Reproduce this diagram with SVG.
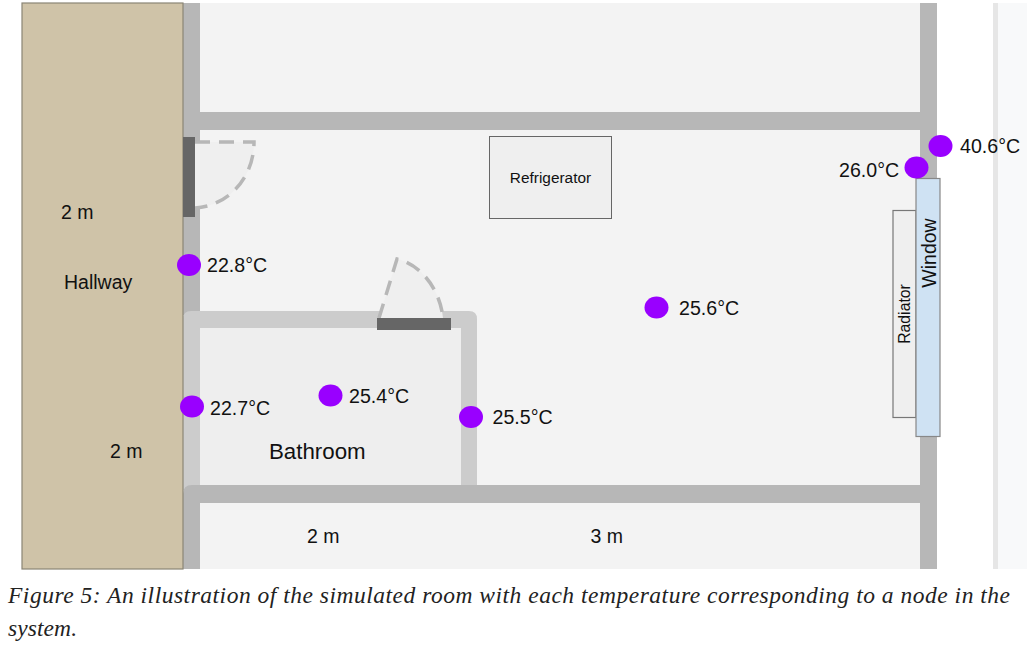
<svg xmlns="http://www.w3.org/2000/svg" width="1034" height="650" viewBox="0 0 1034 650">
<style>
text{font-family:"Liberation Sans",Arial,sans-serif;fill:#111}
.t{font-size:19.500px}
.lbl{font-size:19.600px}
.node{fill:#9900ff}
.wall{fill:#b7b7b7}
.iw{fill:#cccccc}
.door{fill:#666666}
.swing{fill:#efefef;stroke:none}
.dash{fill:none;stroke:#b7b7b7;stroke-width:3.500;stroke-dasharray:15 9}
.cap{font-family:"Liberation Serif","Times New Roman",serif;font-style:italic;font-size:23.500px;fill:#222}
</style>
<rect width="1034" height="650" fill="#fff"/>
<g id="background">
<rect x="993" y="3" width="5" height="566" fill="#e6e6e6"/>
<rect x="998" y="3" width="29" height="566" fill="#f8f9fa"/>
</g>
<g id="floor"><rect x="183" y="3" width="737" height="566" fill="#f3f3f3"/></g>
<g id="bathroom"><rect x="200" y="328" width="261" height="158" fill="#eeeeee"/></g>
<g id="walls">
<rect class="wall" x="183" y="3" width="17" height="312"/>
<rect class="wall" x="183" y="112" width="754" height="18"/>
<rect class="wall" x="920" y="3" width="17" height="566"/>
<path class="iw" d="M191 311H469Q477 311 477 319V490H461V328H200V490H183V319Q183 311 191 311Z"/>
<path class="wall" d="M192 485H937V503H200V569H183V494Q183 485 192 485Z"/>
</g>
<g id="hallway">
<rect x="22" y="3" width="161" height="566" fill="#cfc3a8" stroke="#8a8575" stroke-width="1.200"/>
<text class="t" x="64" y="288.500">Hallway</text>
<text class="t" x="61" y="219">2 m</text>
<text class="t" x="110" y="458">2 m</text>
</g>
<g id="door-hallway">
<path class="swing" d="M195 142H254C254 178 228 206 195 208Z"/>
<path class="dash" d="M195 142H254C254 178 228 206 195 208"/>
<rect class="door" x="183" y="137" width="12" height="80"/>
</g>
<g id="door-bathroom">
<path class="swing" d="M379 318L397 259C422 265 440 290 443 318Z"/>
<path class="dash" d="M379 318L397 259C422 265 440 290 443 318"/>
<rect class="door" x="377" y="318" width="74" height="12"/>
</g>
<g id="refrigerator">
<rect x="489.500" y="136.500" width="122" height="82" fill="#efefef" stroke="#666" stroke-width="1"/>
<text x="550.500" y="183" font-size="15.400" text-anchor="middle">Refrigerator</text>
</g>
<g id="radiator">
<rect x="893" y="210.500" width="23" height="207" fill="#efefef" stroke="#777" stroke-width="1.200"/>
<text transform="translate(910 314) rotate(-90)" font-size="15.800" text-anchor="middle">Radiator</text>
</g>
<g id="window">
<rect x="916" y="178.500" width="24" height="258" fill="#cfe2f3" stroke="#888" stroke-width="1.200"/>
<text transform="translate(936 253) rotate(-90)" font-size="19.500" text-anchor="middle">Window</text>
</g>
<g id="n-40-6"><ellipse class="node" cx="940.500" cy="146" rx="12" ry="11"/><text class="lbl" x="960" y="152.500">40.6°C</text></g>
<g id="n-26-0"><ellipse class="node" cx="916.500" cy="167.500" rx="12" ry="11"/><text class="lbl" x="839" y="176.500">26.0°C</text></g>
<g id="n-22-8"><ellipse class="node" cx="189" cy="265" rx="12" ry="11"/><text class="lbl" x="207" y="271.500">22.8°C</text></g>
<g id="n-25-6"><ellipse class="node" cx="656.500" cy="307.500" rx="12" ry="11"/><text class="lbl" x="679" y="314.500">25.6°C</text></g>
<g id="n-22-7"><ellipse class="node" cx="192" cy="406.500" rx="12" ry="11"/><text class="lbl" x="210" y="415">22.7°C</text></g>
<g id="n-25-4"><ellipse class="node" cx="330.500" cy="395.500" rx="12" ry="11"/><text class="lbl" x="349" y="402.500">25.4°C</text></g>
<g id="n-25-5"><ellipse class="node" cx="471" cy="417" rx="12" ry="11"/><text class="lbl" x="492.500" y="424">25.5°C</text></g>
<g id="labels">
<text x="269" y="459" font-size="22.300">Bathroom</text>
<text class="t" x="307" y="543">2 m</text>
<text class="t" x="590.500" y="543">3 m</text>
</g>
<g id="caption">
<text class="cap" x="8" y="603" textLength="1002" lengthAdjust="spacing">Figure 5: An illustration of the simulated room with each temperature corresponding to a node in the</text>
<text class="cap" x="8" y="636" textLength="69" lengthAdjust="spacing">system.</text>
</g>
<g id="connectors"></g>
</svg>
